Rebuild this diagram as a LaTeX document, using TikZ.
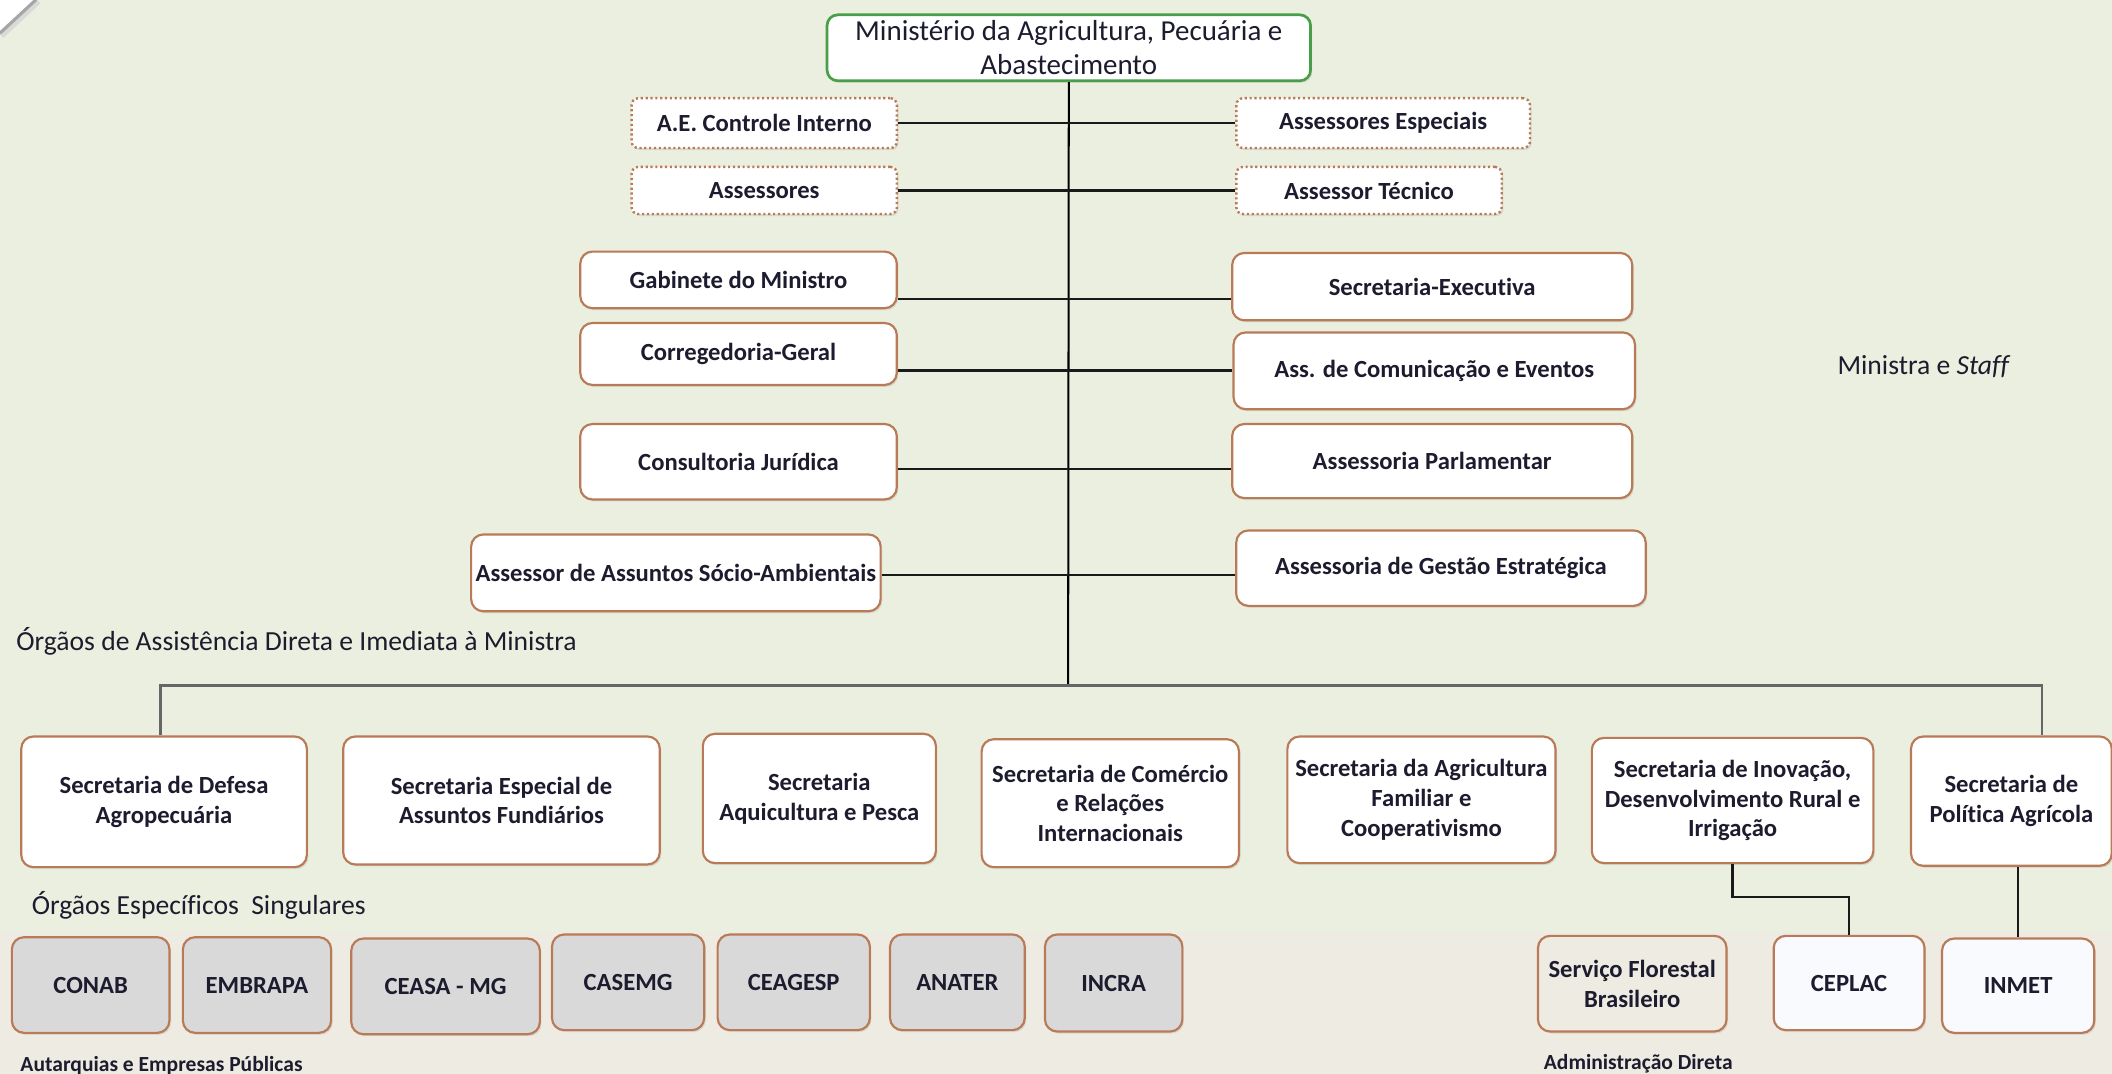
\documentclass[tikz,border=0pt]{standalone}
\usepackage{fontspec}
\setmainfont{Carlito}[Ligatures=NoCommon]
\usetikzlibrary{shadows}
\definecolor{bgtop}{HTML}{EBEFDF}
\definecolor{bgbot}{HTML}{EEEBE2}
\definecolor{brd}{HTML}{B97A57}
\definecolor{ttxt}{HTML}{1C1C2E}
\definecolor{grn}{HTML}{4A9E4A}
\definecolor{grayfill}{HTML}{D9D9D9}
\definecolor{paleblue}{HTML}{F8FAFE}
\newcommand\boxfont{\fontsize{18.3}{22}\selectfont\bfseries}
\newcommand\lblfont{\fontsize{20.5}{24}\selectfont}
\newcommand\smallbold{\fontsize{16}{18}\selectfont\bfseries}
\tikzset{
  box/.style={draw=brd, line width=1.6pt, fill=white, rounded corners=9pt,
    align=center, font=\boxfont, text=ttxt, inner sep=0pt, anchor=north west,
    drop shadow={opacity=0.18, shadow xshift=1.2pt, shadow yshift=-1.5pt}},
  dbox/.style={box, dotted, line width=1.8pt, rounded corners=5pt},
  gbox/.style={box, fill=grayfill},
  conn/.style={draw=black!90, line width=1.8pt},
  trunk/.style={draw=black, line width=1.5pt},
  busline/.style={draw=black!60, line width=2pt},
  lbl/.style={anchor=west, inner sep=0pt, text=ttxt, font=\lblfont},
}
\begin{document}
\begin{tikzpicture}[x=1pt, y=-1pt]
\useasboundingbox (0,0) rectangle (1568,797);
\clip (0,0) rectangle (1568,797);
% background
\fill[white] (0,0) rectangle (1568,797);
\fill[bgtop] (27,0) -- (1568,0) -- (1568,692) -- (0,692) -- (0,25) -- cycle;
\fill[bgbot] (0,692) rectangle (1568,797);
\draw[black!35, line width=3pt] (27,0) -- (0,25);
\draw[black!15, line width=3pt] (29,1.5) -- (1.5,27);

% title
\node[box, draw=grn, line width=2pt, rounded corners=8pt, minimum width=359pt, minimum height=49pt,
  font=\fontsize{21.5}{25}\selectfont] (title) at (613,10)
  {Ministério da Agricultura, Pecuária e\\Abastecimento};

% dotted boxes
\node[dbox, minimum width=197pt, minimum height=37pt] (ae) at (468,72) {A.E. Controle Interno};
\node[dbox, minimum width=197pt, minimum height=35pt] (ass) at (468,123) {Assessores};
\node[dbox, minimum width=218pt, minimum height=37pt] (aesp) at (917,72) {Assessores Especiais};
\node[dbox, minimum width=197pt, minimum height=35pt] (atec) at (917,123) {Assessor Técnico};

% staff boxes
\node[box, minimum width=235pt, minimum height=42pt] (gab) at (430,186) {Gabinete do Ministro};
\node[box, minimum width=297pt, minimum height=50pt] (sexe) at (914,187) {Secretaria-Executiva};
\node[box, minimum width=235pt, minimum height=46pt] (corr) at (430,239) {Corregedoria-Geral};
\node[box, minimum width=298pt, minimum height=57pt] (acom) at (915,246) {Ass. de Comunicação e Eventos};
\node[box, minimum width=235pt, minimum height=56pt] (cjur) at (430,314) {Consultoria Jurídica};
\node[box, minimum width=297pt, minimum height=55pt] (apar) at (914,314) {Assessoria Parlamentar};
\node[box, minimum width=304pt, minimum height=57pt] (asoc) at (349,396) {Assessor de Assuntos Sócio-Ambientais};
\node[box, minimum width=304pt, minimum height=56pt] (ages) at (917,393) {Assessoria de Gestão Estratégica};

% secretarias
\node[box, minimum width=212pt, minimum height=97pt] (def) at (15,546) {Secretaria de Defesa\\Agropecuária};
\node[box, minimum width=235pt, minimum height=95pt] (esp) at (254,546) {Secretaria Especial de\\Assuntos Fundiários};
\node[box, minimum width=173pt, minimum height=96pt] (aqu) at (521,544) {Secretaria\\Aquicultura e Pesca};
\node[box, minimum width=191pt, minimum height=95pt] (com) at (728,548) {Secretaria de Comércio\\e Relações\\Internacionais};
\node[box, minimum width=199pt, minimum height=94pt] (fam) at (955,546) {Secretaria da Agricultura\\Familiar e\\Cooperativismo};
\node[box, minimum width=209pt, minimum height=93pt] (ino) at (1181,547) {Secretaria de Inovação,\\Desenvolvimento Rural e\\Irrigação};
\node[box, minimum width=149pt, minimum height=96pt] (pol) at (1418,546) {Secretaria de\\Política Agrícola};

% bottom row
\node[gbox, minimum width=117pt, minimum height=71pt] (conab) at (8,695) {CONAB};
\node[gbox, minimum width=110pt, minimum height=71pt] (emb) at (135,695) {EMBRAPA};
\node[gbox, minimum width=140pt, minimum height=71pt] (ceasa) at (260,696) {CEASA - MG};
\node[gbox, minimum width=113pt, minimum height=71pt] (casemg) at (409,693) {CASEMG};
\node[gbox, minimum width=113pt, minimum height=71pt] (ceag) at (532,693) {CEAGESP};
\node[gbox, minimum width=100pt, minimum height=71pt] (anater) at (660,693) {ANATER};
\node[gbox, minimum width=102pt, minimum height=72pt] (incra) at (775,693) {INCRA};
\node[box, fill=bgbot, minimum width=140pt, minimum height=71pt] (sfb) at (1141,694) {Serviço Florestal\\Brasileiro};
\node[box, fill=paleblue, minimum width=112pt, minimum height=70pt] (ceplac) at (1316,694) {CEPLAC};
\node[box, fill=paleblue, minimum width=113pt, minimum height=70pt] (inmet) at (1441,696) {INMET};

% labels
\node[lbl] (l1) at (12,476) {Órgãos de Assistência Direta e Imediata à Ministra};
\node[lbl] (l2) at (1364,272) {Ministra e \textit{Staff}};
\node[lbl] (l3) at (23.5,672) {Órgãos Específicos\ \ Singulares};
\node[lbl, font=\smallbold] (l4) at (15,791) {Autarquias e Empresas Públicas};
\node[lbl, font=\smallbold] (l5) at (1146,790) {Administração Direta};

% connectors
\coordinate (busM) at (793,509);
\coordinate (busL) at (119,509);
\coordinate (busR) at (1516,509);
\draw[trunk] (title.south) -- (busM);
\draw[conn] (ae.east) -- (ae.east -| aesp.west);
\draw[conn] (ass.east) -- (ass.east -| atec.west);
\draw[conn] (gab.east |- 0,222) -- (sexe.west |- 0,222);
\draw[conn] (corr.east |- 0,275) -- (acom.west |- 0,275);
\draw[conn] (cjur.east |- 0,348) -- (apar.west |- 0,348);
\draw[conn] (asoc.east |- 0,427) -- (ages.west |- 0,427);
\draw[busline] (busL |- def.north) -- (busL) -- (busR) -- (busR |- pol.north);
\draw[conn] (ino.south) -- (ino.south |- 0,666) -| (ceplac.north);
\draw[conn] (inmet.north) -- (inmet.north |- pol.south);
\end{tikzpicture}
\end{document}
